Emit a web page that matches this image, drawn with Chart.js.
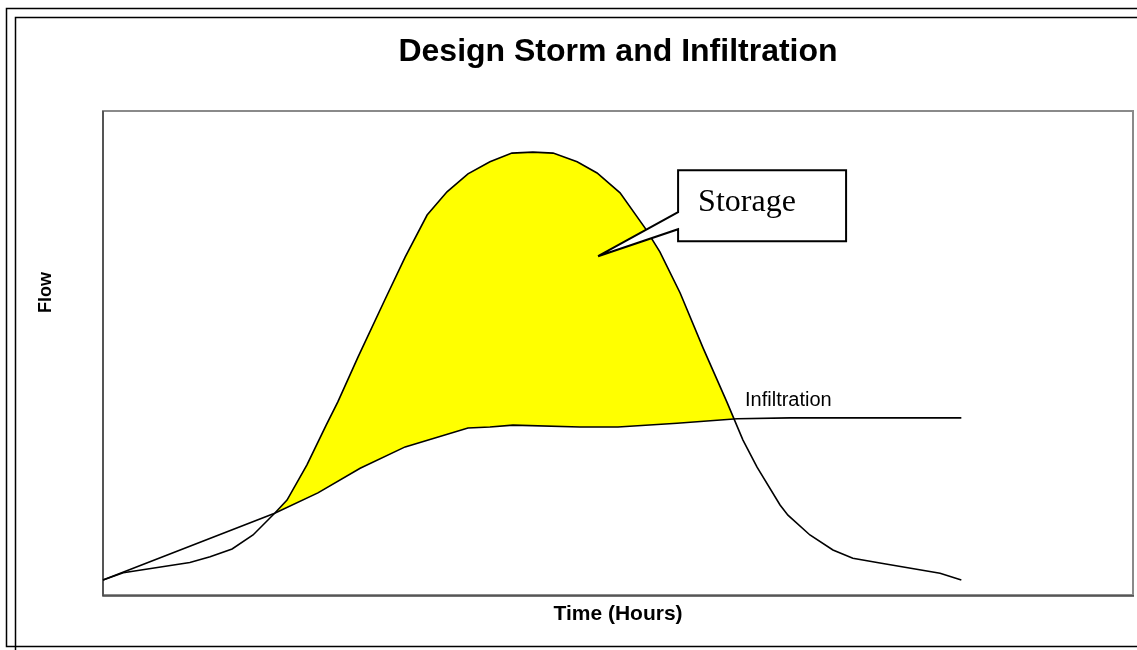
<!DOCTYPE html>
<html>
<head>
<meta charset="utf-8">
<title>Design Storm and Infiltration</title>
<script src="https://cdn.jsdelivr.net/npm/chart.js@4"></script>
<style>
    body { margin: 0; background: #fff; }
    #wrap { position: relative; width: 1137px; height: 650px; }
</style>
</head>
<body>
<div id="wrap"><canvas id="chartStorm"></canvas></div>
<script>
// time in hours, flow in relative units (0-100)
const stormTime = [0, 0.59, 2.53, 3.12, 3.76, 4.37, 5.0, 5.36, 5.94, 6.5, 6.84, 7.43, 8.21, 8.8, 9.44, 10.02, 10.63, 11.27, 11.91, 12.52, 13.11, 13.81, 14.39, 15.06, 15.79, 16.22, 16.81, 17.48, 18.17, 18.64, 19.05, 19.72, 19.95, 20.59, 21.26, 21.84, 22.63, 24.38, 25.0];
const stormFlow = [3.1, 4.6, 6.7, 7.9, 9.5, 12.4, 16.9, 19.6, 26.9, 35.1, 39.9, 49.2, 61.0, 69.8, 78.5, 83.3, 87.0, 89.5, 91.3, 91.5, 91.3, 89.5, 87.2, 83.1, 75.8, 70.9, 62.4, 51.0, 39.9, 32.0, 26.4, 18.6, 16.5, 12.4, 9.3, 7.6, 6.6, 4.5, 3.1];

const infilTime = [0, 5.0, 6.26, 7.49, 8.8, 10.63, 11.27, 11.94, 13.89, 15.0, 16.72, 18.47, 20.01, 25.0];
const infilFlow = [3.1, 16.9, 21.1, 26.2, 30.6, 34.5, 34.7, 35.1, 34.7, 34.7, 35.5, 36.4, 36.6, 36.6];

const timeRange = [0, 30];
const flowRange = [0, 100];

const chartTitle = "Design Storm and Infiltration";
const xTitle = "Time (Hours)";
const yTitle = "Flow";
const infilLabel = "Infiltration";
const storageLabel = "Storage";

// where the labels point to, in data units
const infilLabelAt = { x: 18.7, y: 39.0 };
const storageTipAt = { x: 14.42, y: 70.0 };

const toPoints = (xs, ys) => xs.map((x, i) => ({ x: x, y: ys[i] }));

const sansFont = "'Liberation Sans', Arial, sans-serif";
const serifFont = "'Liberation Serif', 'Times New Roman', serif";

// frames, plot border, the y title and the two annotations
const decorations = {
    id: "decorations",
    beforeDraw(chart) {
        const ctx = chart.ctx;
        const a = chart.chartArea;
        ctx.save();
        ctx.strokeStyle = "#000";
        ctx.lineWidth = 1.5;
        ctx.beginPath();
        ctx.moveTo(1137, 8.5);
        ctx.lineTo(6.5, 8.5);
        ctx.lineTo(6.5, 646.5);
        ctx.lineTo(1137, 646.5);
        ctx.moveTo(1137, 17.5);
        ctx.lineTo(15.5, 17.5);
        ctx.lineTo(15.5, 650);
        ctx.stroke();

        ctx.lineWidth = 2;
        ctx.strokeStyle = "#8a8a8a";
        ctx.strokeRect(a.left, a.top, a.right - a.left, a.bottom - a.top);
        ctx.strokeStyle = "#444";
        ctx.lineWidth = 1.5;
        ctx.beginPath();
        ctx.moveTo(a.left, a.top);
        ctx.lineTo(a.left, a.bottom + 1);
        ctx.lineTo(a.right + 1, a.bottom + 1);
        ctx.stroke();

        // y axis title sits above the middle of the plot, as in the original
        ctx.translate(a.left - 57, a.top + (a.bottom - a.top) * 0.375);
        ctx.rotate(-Math.PI / 2);
        ctx.fillStyle = "#000";
        ctx.font = "bold 18px " + sansFont;
        ctx.textAlign = "center";
        ctx.textBaseline = "middle";
        ctx.fillText(yTitle, 0, 0);
        ctx.restore();
    },
    afterDraw(chart) {
        const ctx = chart.ctx;
        const xs = chart.scales.x;
        const ys = chart.scales.y;
        ctx.save();

        // infiltration label
        ctx.fillStyle = "#000";
        ctx.font = "20px " + sansFont;
        ctx.textBaseline = "alphabetic";
        ctx.fillText(infilLabel, xs.getPixelForValue(infilLabelAt.x), ys.getPixelForValue(infilLabelAt.y));

        // storage callout
        const tx = xs.getPixelForValue(storageTipAt.x);
        const ty = ys.getPixelForValue(storageTipAt.y);
        const bx = tx + 80, by = ty - 86, bw = 168, bh = 71;
        ctx.beginPath();
        ctx.moveTo(bx, by);
        ctx.lineTo(bx + bw, by);
        ctx.lineTo(bx + bw, by + bh);
        ctx.lineTo(bx, by + bh);
        ctx.lineTo(bx, ty - 27);
        ctx.lineTo(tx, ty);
        ctx.lineTo(bx, ty - 44);
        ctx.closePath();
        ctx.fillStyle = "#fff";
        ctx.fill();
        ctx.strokeStyle = "#000";
        ctx.lineWidth = 2;
        ctx.lineJoin = "miter";
        ctx.stroke();

        ctx.fillStyle = "#000";
        ctx.font = "32px " + serifFont;
        ctx.fillText(storageLabel, bx + 20, ty - 45);
        ctx.restore();
    }
};

window.renderStormChart = () => {
    const ctx = document.getElementById("chartStorm");

    new Chart(ctx, {
        type: "line",
        data: {
            datasets: [{
                label: "Design Storm",
                data: toPoints(stormTime, stormFlow),
                borderColor: "#000",
                borderWidth: 1.6,
                pointRadius: 0,
                tension: 0,
                fill: { target: 1, above: "#ffff00", below: "rgba(0,0,0,0)" },
                clip: false
            }, {
                label: "Infiltration",
                data: toPoints(infilTime, infilFlow),
                borderColor: "#000",
                borderWidth: 1.6,
                pointRadius: 0,
                tension: 0,
                fill: false,
                clip: false
            }]
        },
        options: {
            responsive: true,
            maintainAspectRatio: false,
            animation: false,
            layout: { padding: { left: 103, right: 4, top: 0, bottom: 23 } },
            plugins: {
                legend: { display: false },
                tooltip: { enabled: false },
                filler: { drawTime: "beforeDatasetsDraw" },
                title: {
                    display: true,
                    text: chartTitle,
                    fullSize: false,
                    color: "#000",
                    font: { family: sansFont, size: 32, weight: "bold" },
                    padding: { top: 33.2, bottom: 39.4 }
                }
            },
            scales: {
                x: {
                    type: "linear",
                    min: timeRange[0],
                    max: timeRange[1],
                    ticks: { display: false },
                    grid: { display: false, drawTicks: false },
                    border: { display: false },
                    title: {
                        display: true,
                        text: xTitle,
                        color: "#000",
                        font: { family: sansFont, size: 21, weight: "bold" },
                        padding: { top: 6.8, bottom: 0 }
                    }
                },
                y: {
                    type: "linear",
                    min: flowRange[0],
                    max: flowRange[1],
                    ticks: { display: false },
                    grid: { display: false, drawTicks: false },
                    border: { display: false },
                    title: { display: false, text: yTitle }
                }
            }
        },
        plugins: [decorations]
    });
};

window.renderStormChart();
</script>
</body>
</html>
